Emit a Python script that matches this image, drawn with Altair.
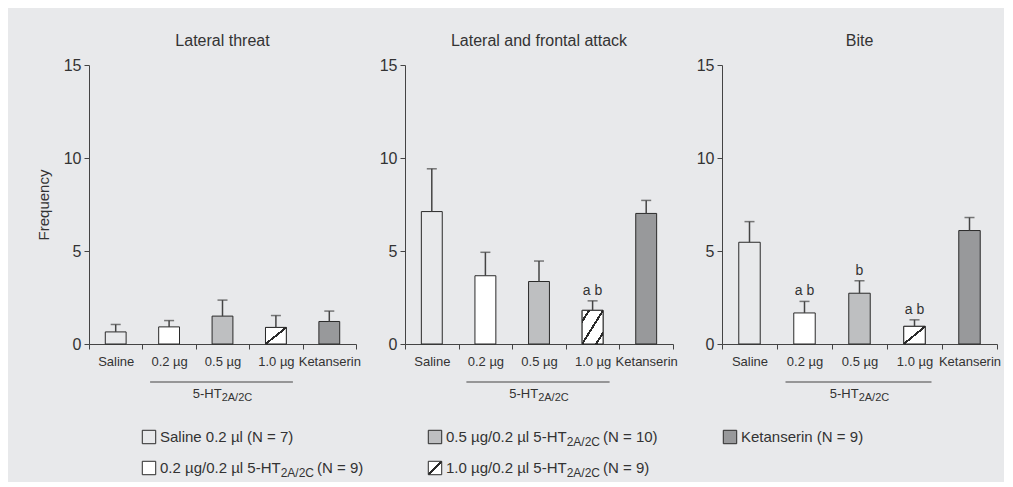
import altair as alt
import pandas as pd

# ---------------- data ----------------
categories = ["Saline", "0.2 µg", "0.5 µg", "1.0 µg", "Ketanserin"]
bar_fills = ["#e8e9eb", "#ffffff", "#bebfc1", "#ffffff", "#98999b"]

panel_titles = ["Lateral threat", "Lateral and frontal attack", "Bite"]

threat_mean = [0.65, 0.92, 1.50, 0.89, 1.21]
threat_sem = [0.40, 0.34, 0.86, 0.64, 0.56]
threat_sig = ["", "", "", "", ""]

attack_mean = [7.12, 3.67, 3.36, 1.81, 7.02]
attack_sem = [2.30, 1.26, 1.10, 0.51, 0.70]
attack_sig = ["", "", "", "a b", ""]

bite_mean = [5.47, 1.67, 2.73, 0.95, 6.10]
bite_sem = [1.11, 0.62, 0.67, 0.35, 0.70]
bite_sig = ["", "a b", "b", "a b", ""]

y_ticks = [0, 5, 10, 15]
group_main = "5-HT"
group_sub = "2A/2C"
group_from = "0.2 µg"
group_to = "1.0 µg"
group_center = "0.5 µg"

legend_main = ["Saline 0.2 µl", "0.2 µg/0.2 µl 5-HT", "0.5 µg/0.2 µl 5-HT",
               "1.0 µg/0.2 µl 5-HT", "Ketanserin"]
legend_sub = ["", "2A/2C", "2A/2C", "2A/2C", ""]
legend_n = ["(N = 7)", "(N = 9)", "(N = 10)", "(N = 9)", "(N = 9)"]
legend_fill = ["#e8e9eb", "#ffffff", "#bebfc1", "#ffffff", "#98999b"]
legend_hatched = [False, False, False, True, False]
legend_col = [0, 0, 1, 1, 2]
legend_row = [0, 1, 0, 1, 0]

# ---------------- style / layout ----------------
BG = "#e8e9eb"
INK = "#2a2a2a"
AXC = "#444444"
TXT = "#333333"
FONT = "Liberation Sans"
H = 279
PANEL_W = [267, 268, 275]
YMAX = 15

CW = {' ': 278, '.': 278, '/': 278, '-': 333, '(': 333, ')': 333, '=': 584, 'µ': 576,
      'A': 667, 'C': 722, 'H': 722, 'K': 667, 'N': 722, 'S': 667, 'T': 611,
      'a': 556, 'e': 556, 'g': 556, 'i': 222, 'l': 222, 'n': 556, 'r': 333, 's': 500, 't': 278}


def text_w(s, size):
    return sum(CW.get(c, 556) for c in s) * size / 1000.0


def hatch(w, h, k, thick=2.0):
    dt = thick * (1.0 / w ** 2 + 1.0 / h ** 2) ** 0.5 / 2.0
    stops = [alt.GradientStop(color="#ffffff", offset=0)]
    for i in range(k):
        c = (i + 0.5) / k
        stops += [alt.GradientStop(color="#ffffff", offset=c - dt / 2),
                  alt.GradientStop(color=INK, offset=c - dt / 2),
                  alt.GradientStop(color=INK, offset=c + dt / 2),
                  alt.GradientStop(color="#ffffff", offset=c + dt / 2)]
    stops.append(alt.GradientStop(color="#ffffff", offset=1))
    return alt.LinearGradient(gradient="linear", stops=stops, x1=0, y1=0, x2=1, y2=1)


def panel(title, mean, sem, sig, first, pw):
    df = pd.DataFrame({"cat": categories, "mean": mean,
                       "top": [m + s for m, s in zip(mean, sem)], "sig": sig})
    xscale = alt.Scale(domain=categories, paddingInner=0, paddingOuter=0)
    xenc = alt.X("cat:N", sort=categories, scale=xscale,
                 axis=alt.Axis(title=None, labelAngle=0, tickBand="extent",
                               labelFontSize=13, labelColor=TXT, labelPadding=6,
                               tickSize=5, tickColor=AXC, domainColor=AXC,
                               labelFont=FONT))
    yaxis = alt.Axis(values=y_ticks, grid=False, tickSize=5, labelFontSize=16,
                     labelColor=TXT, tickColor=AXC, domainColor=AXC, labelPadding=3,
                     title="Frequency" if first else None, titleFontSize=15,
                     titleFontWeight="normal", titleColor=TXT, titlePadding=12,
                     labelFont=FONT, titleFont=FONT)
    yenc = alt.Y("mean:Q", scale=alt.Scale(domain=[0, YMAX], nice=False), axis=yaxis)
    base = alt.Chart(df)
    bw = alt.RelativeBandSize(0.39)

    bars = base.mark_bar(width=bw, stroke=INK, strokeWidth=1).encode(
        x=xenc, y=yenc,
        fill=alt.Fill("cat:N", scale=alt.Scale(domain=categories, range=bar_fills), legend=None))

    hidx = categories.index("1.0 µg")
    hpx = mean[hidx] * H / YMAX
    k = max(1, round(hpx / 12))
    hatched = base.transform_filter(alt.datum.cat == "1.0 µg").mark_bar(
        width=bw, stroke=INK, strokeWidth=1, fill=hatch(pw / 5 * 0.39, hpx, k)
    ).encode(x=xenc, y=yenc)

    err = base.mark_rule(color=AXC, strokeWidth=1.5).encode(
        x=xenc, y=alt.Y("mean:Q"), y2="top:Q")
    caps = base.mark_tick(color=AXC, size=10, thickness=1.5).encode(
        x=xenc, y=alt.Y("top:Q"))
    sigs = base.mark_text(baseline="bottom", dy=-3, fontSize=14, color=TXT, font=FONT).encode(
        x=xenc, y=alt.Y("top:Q"), text="sig:N")

    bdf = pd.DataFrame({"cat": [group_from], "cat_end": [group_to]})
    bracket = alt.Chart(bdf).mark_rule(color=AXC, strokeWidth=1.2, xOffset=-19, x2Offset=17).encode(
        x=alt.X("cat:N", sort=categories), x2="cat_end:N", y=alt.value(H + 38))

    main_size, sub_size = 13, 11
    wm = text_w(group_main, main_size)
    ws = text_w(group_sub, sub_size)
    total = wm + ws
    gdf = pd.DataFrame({"cat": [group_center], "t": [group_main], "s": [group_sub]})
    lab_main = alt.Chart(gdf).mark_text(align="left", baseline="alphabetic", dx=-total / 2,
                                        fontSize=main_size, color=TXT, font=FONT).encode(
        x=alt.X("cat:N", sort=categories), y=alt.value(H + 54), text="t:N")
    lab_sub = alt.Chart(gdf).mark_text(align="left", baseline="alphabetic", dx=-total / 2 + wm,
                                       dy=3, fontSize=sub_size, color=TXT, font=FONT).encode(
        x=alt.X("cat:N", sort=categories), y=alt.value(H + 54), text="s:N")

    return alt.layer(bars, hatched, err, caps, sigs, bracket, lab_main, lab_sub).properties(
        width=pw, height=H,
        title=alt.Title(title, fontSize=16, fontWeight="normal", color=TXT, font=FONT, offset=8))


p1 = panel(panel_titles[0], threat_mean, threat_sem, threat_sig, True, PANEL_W[0])
p2 = panel(panel_titles[1], attack_mean, attack_sem, attack_sig, False, PANEL_W[1])
p3 = panel(panel_titles[2], bite_mean, bite_sem, bite_sig, False, PANEL_W[2])
row = alt.hconcat(p1, p2, p3, spacing=18)

# ---------------- legend ----------------
LW, LH = 880, 50
col_box = [60, 346, 641]
row_y = [10, 41]
LFS, LSUB = 15, 12
box_x, txt_x, sub_x, tail_x, ys = [], [], [], [], []
for i in range(len(legend_main)):
    bx = col_box[legend_col[i]]
    tx = bx + 11
    sx = tx + text_w(legend_main[i], LFS)
    if legend_sub[i]:
        tl = sx + text_w(legend_sub[i], LSUB) + 3
    else:
        tl = sx + text_w(" ", LFS)
    box_x.append(bx); txt_x.append(tx); sub_x.append(sx); tail_x.append(tl)
    ys.append(row_y[legend_row[i]])

ldf = pd.DataFrame({"main": legend_main, "sub": legend_sub, "n": legend_n,
                    "fill": legend_fill, "hatched": legend_hatched,
                    "bx": box_x, "tx": txt_x, "sx": sub_x, "tl": tail_x, "y": ys})


def lx(f):
    return alt.X(f + ":Q", scale=alt.Scale(domain=[0, LW], nice=False, zero=False), axis=None)


ly = alt.Y("y:Q", scale=alt.Scale(domain=[0, LH], reverse=True, nice=False, zero=False), axis=None)
lbase = alt.Chart(ldf)
boxes = lbase.transform_filter(alt.datum.hatched == False).mark_square(
    size=180, stroke=INK, strokeWidth=1, opacity=1).encode(
    x=lx("bx"), y=ly, fill=alt.Fill("fill:N", scale=None))
hbox = lbase.transform_filter(alt.datum.hatched == True).mark_square(
    size=180, stroke=INK, strokeWidth=1, opacity=1, fill=hatch(13.4, 13.4, 1, 2.2)).encode(
    x=lx("bx"), y=ly)
t_main = lbase.mark_text(align="left", baseline="middle", fontSize=LFS, color=TXT, font=FONT).encode(
    x=lx("tx"), y=ly, text="main:N")
t_sub = lbase.mark_text(align="left", baseline="middle", dy=5, fontSize=LSUB, color=TXT, font=FONT).encode(
    x=lx("sx"), y=ly, text="sub:N")
t_tail = lbase.mark_text(align="left", baseline="middle", fontSize=LFS, color=TXT, font=FONT).encode(
    x=lx("tl"), y=ly, text="n:N")
legend = alt.layer(boxes, hbox, t_main, t_sub, t_tail).properties(width=LW, height=LH)

chart = alt.vconcat(row, legend, spacing=24).properties(
    background=BG, padding={"left": 28, "top": 25, "right": 3, "bottom": 3}
).configure(font=FONT).configure_view(stroke=None)

chart.save("out.html", embed_options={"renderer": "svg", "actions": False})
